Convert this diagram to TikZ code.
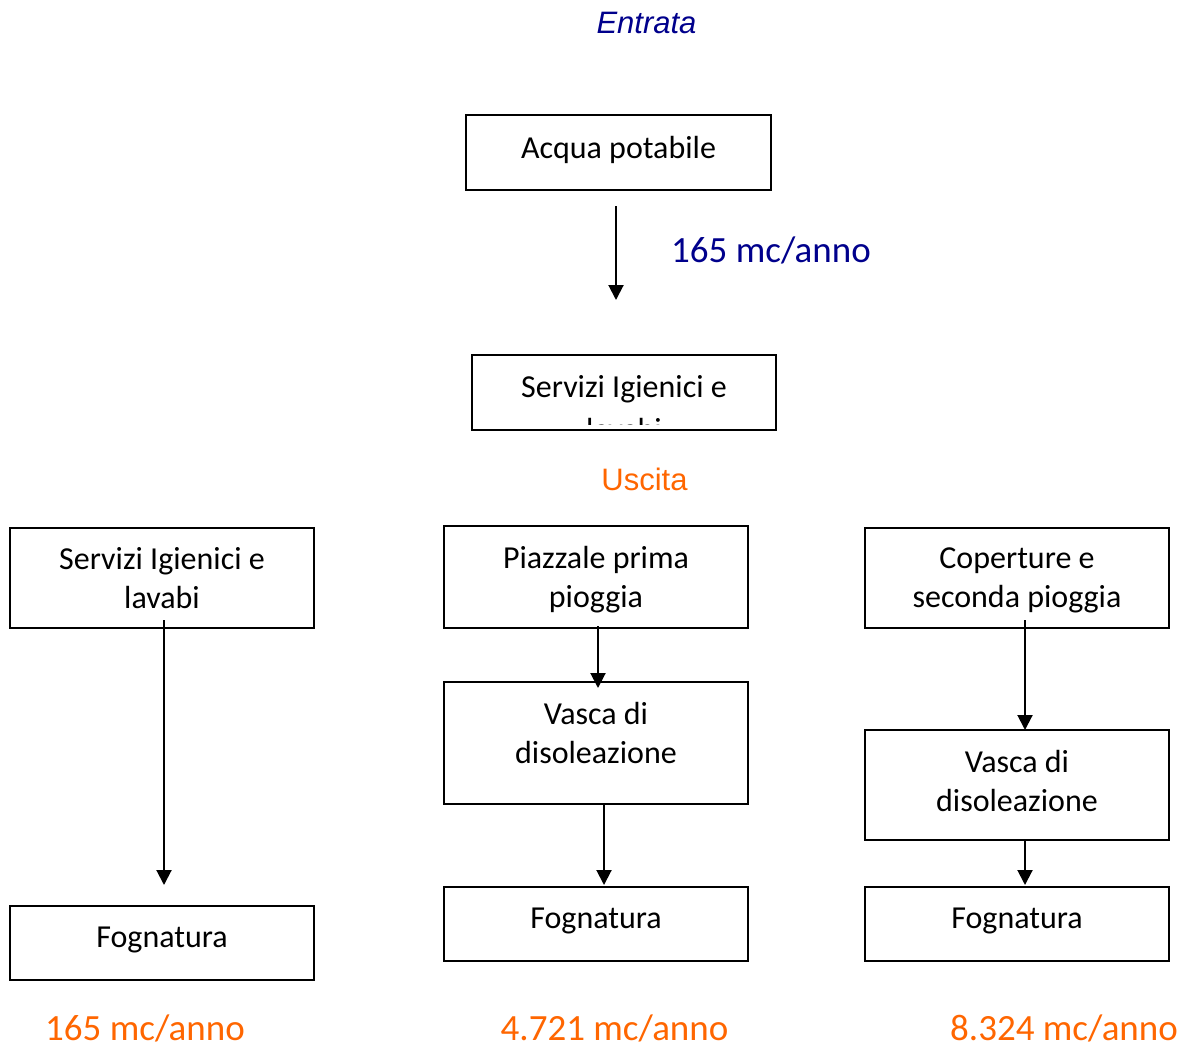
\documentclass[tikz,border=0pt]{standalone}
\usepackage{fontspec}
\setmainfont{Carlito}
\newfontfamily\arialfont{Liberation Sans}
\usetikzlibrary{arrows.meta,calc}
\definecolor{entblue}{RGB}{0,0,140}
\definecolor{outorange}{RGB}{255,102,0}
\begin{document}
\begin{tikzpicture}[x=1pt,y=-1pt,
  box/.style={draw=black,line width=1.5pt,inner sep=0pt,outer sep=0pt,minimum width=304pt,align=center,
    font=\fontsize{32}{39}\selectfont},
  arr/.style={line width=2pt,-{Triangle[width=15pt,length=15pt]}},
  bluelab/.style={text=entblue,font=\fontsize{37}{44}\selectfont,anchor=base,inner sep=0pt},
  orlab/.style={text=outorange,font=\fontsize{37}{44}\selectfont,anchor=base,inner sep=0pt},
  headlab/.style={font=\arialfont\fontsize{31}{37}\selectfont,anchor=base,inner sep=0pt},
  txt/.style={font=\fontsize{32}{39}\selectfont,anchor=base,inner sep=0pt}]
\useasboundingbox (0,0) rectangle (1185,1044);
\fill[white] (0,0) rectangle (1185,1044);

% headings
\node[headlab,text=entblue] (entrata) at (646.5,33) {\itshape Entrata};
\node[headlab,text=outorange] (uscita) at (644.5,490) {Uscita};

% top part
\node[box,minimum width=305pt,minimum height=75pt,text depth=10.5pt] (acq) at (618.5,152.5) {Acqua potabile};
\node[box,minimum height=75pt] (srvtop) at (624,392.5) {};
\begin{scope}
  \clip (473,356) rectangle (775,424);
  \node[txt] (srvtopa) at (624,397) {Servizi Igienici e};
  \node[txt] (srvtopb) at (624,440) {lavabi};
\end{scope}
\draw[arr] ($(acq.south)+(-2.5,16)$) -- ($(srvtop.north)+(-8,-55)$);
\node[bluelab] (flowin) at (771,262) {165 mc/anno};

% left column
\node[box,minimum height=100pt,text depth=-4pt] (s1) at (162,578) {Servizi Igienici e\\lavabi};
\node[box,minimum height=74pt,text depth=12pt] (f1) at (162,943) {Fognatura};
\draw[arr] ($(s1.south)+(2,-8)$) -- ($(f1.north)+(2,-21)$);

% middle column
\node[box,minimum height=102pt,text depth=0pt] (p2) at (596,577) {Piazzale prima\\pioggia};
\node[box,minimum height=122pt,text depth=20pt] (v2) at (596,743) {Vasca di\\disoleazione};
\node[box,minimum height=74pt,text depth=12pt] (f2) at (596,924) {Fognatura};
\draw[arr] ($(p2.south)+(2,-2)$) -- ($(v2.north)+(2,6)$);
\draw[arr] ($(v2.south)+(8,0)$) -- ($(f2.north)+(8,-2)$);

% right column
\node[box,minimum height=100pt,text depth=-6pt] (c3) at (1017,578) {Coperture e\\seconda pioggia};
\node[box,minimum height=110pt,text depth=8pt] (v3) at (1017,785) {Vasca di\\disoleazione};
\node[box,minimum height=74pt,text depth=12pt] (f3) at (1017,924) {Fognatura};
\draw[arr] ($(c3.south)+(8,-8)$) -- ($(v3.north)+(8,0)$);
\draw[arr] ($(v3.south)+(8,0)$) -- ($(f3.north)+(8,-2)$);

% outputs
\node[orlab] (out1) at (145,1040) {165 mc/anno};
\node[orlab] (out2) at (614.5,1040) {4.721 mc/anno};
\node[orlab] (out3) at (1064,1040) {8.324 mc/anno};
\end{tikzpicture}
\end{document}
